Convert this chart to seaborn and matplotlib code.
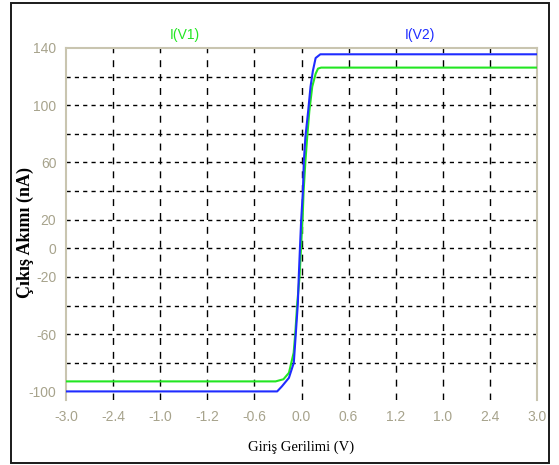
import matplotlib
matplotlib.use("Agg")
import matplotlib.pyplot as plt
import seaborn as sns
import pandas as pd
from matplotlib.patches import Rectangle

# ---- data ----
x_v1 = [-3.0, -0.33, -0.23, -0.16, -0.10, -0.08, -0.055, -0.025, -0.006, 0.017, 0.026,
        0.05, 0.073, 0.10, 0.137, 0.18, 0.21, 0.25, 3.0]
y_v1 = [-93, -93, -91.5, -87, -73, -60, -39, -20, 0, 25, 39,
        61, 78, 96, 113, 122, 125.6, 126.3, 126.3]

x_v2 = [-3.0, -0.31, -0.25, -0.16, -0.098, -0.073, -0.047, -0.035, -0.02, -0.004, 0.017,
        0.03, 0.05, 0.085, 0.115, 0.145, 0.18, 0.24, 3.0]
y_v2 = [-100, -100, -96.5, -90.5, -80, -60, -39, -20, 0, 20, 39,
        61, 78, 96, 113, 124, 133, 135.6, 135.6]

series_names = ["I(V1)", "I(V2)"]
x_ticks = [-3.0, -2.4, -1.8, -1.2, -0.6, 0.0, 0.6, 1.2, 1.8, 2.4, 3.0]
x_tick_labels = ["-3.0", "-2.4", "-1.0", "-1.2", "-0.6", "0.0", "0.6", "1.2", "1.0", "2.4", "3.0"]
y_ticks = [140, 100, 60, 20, 0, -20, -60, -100]
y_tick_labels = ["140", "100", "60", "20", "0", "-20", "-60", "-100"]
y_grid = [120, 100, 80, 60, 40, 20, 0, -20, -40, -60, -80]
x_label = "Giriş Gerilimi (V)"
y_label = "Çıkış Akımı (nA)"

df = pd.concat([
    pd.DataFrame({"x": x_v1, "y": y_v1, "s": series_names[0]}),
    pd.DataFrame({"x": x_v2, "y": y_v2, "s": series_names[1]}),
], ignore_index=True)

sns.set_style("white")
plt.rcParams["font.family"] = ["Liberation Sans Narrow", "Liberation Sans", "DejaVu Sans"]

W, H = 559, 465
fig = plt.figure(figsize=(W / 100, H / 100), dpi=100)
ax = fig.add_axes([66 / W, 1 - 400 / H, (537 - 66) / W, (400 - 48) / H])

tan = "#a7a38c"
spine_c = "#c9c5b0"
green = "#22e622"
blue = "#1f2cff"

# grid
for g in y_grid:
    ax.axhline(g, color="black", lw=1.0, ls=(0, (3, 3)), zorder=1)
for t in x_ticks[1:-1]:
    ax.axvline(t, color="black", lw=1.0, ls=(0, (5, 5)), zorder=1)

sns.lineplot(data=df, x="x", y="y", hue="s", estimator=None, sort=False,
             palette={series_names[0]: green, series_names[1]: blue},
             lw=1.5, legend=False, ax=ax, zorder=3)

ax.set_xlim(-3.0, 3.0)
ax.set_ylim(-106, 140)
ax.set_xticks(x_ticks)
ax.set_xticklabels(x_tick_labels)
ax.set_yticks(y_ticks)
ax.set_yticklabels(y_tick_labels)
ax.tick_params(axis="both", length=0, labelsize=10, labelcolor=tan, pad=7)

for s in ["left", "top", "right"]:
    ax.spines[s].set_color(spine_c)
    ax.spines[s].set_linewidth(1.5)
ax.spines["bottom"].set_visible(False)

ax.set_xlabel(x_label, family="Liberation Serif", fontsize=10.5, color="black", labelpad=12)
ax.set_ylabel("")
fig.text(25 / W, 1 - 233 / H, y_label, family="Liberation Serif", fontweight="bold",
         fontsize=13, rotation=90, ha="center", va="center", color="black")

fig.text(185 / W, 1 - 35 / H, series_names[0], color=green, fontsize=10, ha="center", va="center")
fig.text(420 / W, 1 - 35 / H, series_names[1], color=blue, fontsize=10, ha="center", va="center")

fig.patches.append(Rectangle((11 / W, 1 - 463 / H), (549 - 11) / W, (463 - 3) / H,
                             transform=fig.transFigure, fill=False, edgecolor="#1a1a1a",
                             lw=1.4))

fig.savefig("out.png", dpi=100, facecolor="white")
